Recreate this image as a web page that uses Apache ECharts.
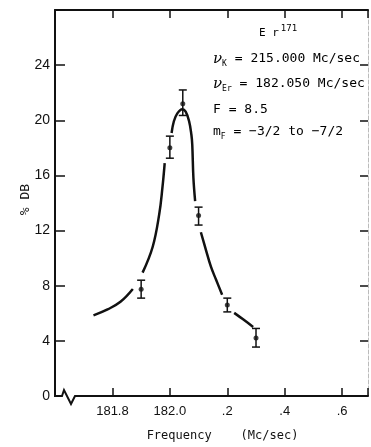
<!DOCTYPE html>
<html>
<head>
<meta charset="utf-8">
<script src="https://cdn.jsdelivr.net/npm/echarts@6/dist/echarts.min.js"></script>
<style>
  html, body { margin: 0; padding: 0; background: #fff; }
  #chart { width: 371px; height: 447px; }
</style>
</head>
<body>
<div id="chart"></div>
<script>
// measured points (Mc/sec, % DB) with error bar ends
const freq = [181.90, 182.00, 182.045, 182.10, 182.20, 182.30]
const pctDB = [7.75, 18.0, 21.2, 13.1, 6.6, 4.2]
const errLow = [7.1, 17.25, 20.35, 12.4, 6.1, 3.55]
const errHigh = [8.4, 18.85, 22.2, 13.7, 7.1, 4.9]

// hand drawn resonance curve, broken where it passes the error bars
const curveA = [[181.734, 5.85], [181.783, 6.28], [181.828, 6.83], [181.871, 7.76]]
const curveB = [[181.905, 8.95], [181.940, 10.81], [181.963, 13.19], [181.974, 15.09], [181.982, 16.89]]
const curveC = [[182.006, 19.08], [182.014, 19.93], [182.026, 20.50], [182.043, 20.80], [182.055, 20.62],
  [182.067, 19.93], [182.075, 18.95], [182.078, 18.23], [182.082, 15.81], [182.088, 14.14]]
const curveD = [[182.108, 11.88], [182.126, 10.57], [182.143, 9.38], [182.161, 8.43], [182.182, 7.35]]
const curveE = [[182.224, 6.03], [182.255, 5.56], [182.290, 5.01]]

const xMin = 181.6, xMax = 182.69, xStep = 0.2
const yMin = 0, yMax = 28, yStep = 4
const xTickValues = [181.8, 182.0, 182.2, 182.4, 182.6]
const xTickLabels = ['181.8', '182.0', '.2', '.4', '.6']
const yTickLabels = ['0', '4', '8', '12', '16', '20', '24']

const ink = '#111'
const mono = 'DejaVu Sans Mono'

const rich = {
  t: { fontFamily: mono, fontSize: 13, lineHeight: 18, color: ink },
  nu: { fontFamily: 'DejaVu Serif', fontStyle: 'italic', fontSize: 15, lineHeight: 18, color: ink },
  sub: { fontFamily: mono, fontSize: 8, lineHeight: 9, verticalAlign: 'bottom', color: ink },
  big: { fontFamily: mono, fontSize: 11, lineHeight: 18, color: ink },
  sup: { fontFamily: mono, fontSize: 9, lineHeight: 9, verticalAlign: 'top', color: ink, padding: [0, 0, 0, 2] },
}
const noteLines = [
  { y: 33, x: 259, text: '{big|E r}{sup|171}' },
  { y: 59, x: 213, text: '{nu|ν}{sub|K}{t| = 215.000 Mc/sec}' },
  { y: 84, x: 213, text: '{nu|ν}{sub|Er}{t| = 182.050 Mc/sec}' },
  { y: 110, x: 213, text: '{t|F = 8.5}' },
  { y: 132, x: 213, text: '{t|m}{sub|F}{t| = −3/2 to −7/2}' },
]

const chart = echarts.init(document.getElementById('chart'))

const xCommon = {
  type: 'value', min: xMin, max: xMax, interval: xStep,
  axisLine: { onZero: false, lineStyle: { color: ink, width: 2 } },
  axisTick: { inside: true, length: 8, lineStyle: { color: ink, width: 1.5 } },
  splitLine: { show: false },
}
const yCommon = {
  type: 'value', min: yMin, max: yMax, interval: yStep,
  splitLine: { show: false },
}

chart.setOption({
  animation: false,
  backgroundColor: '#fff',
  grid: { left: 55, right: 1, top: 10, bottom: 49 },
  xAxis: [
    {
      ...xCommon, position: 'bottom',
      name: 'Frequency    (Mc/sec)', nameLocation: 'middle', nameGap: 34, nameMoveOverlap: false,
      nameTextStyle: { fontFamily: mono, fontSize: 12, color: ink, padding: [0, 0, 0, 22] },
      axisLabel: {
        margin: 9, fontFamily: 'Liberation Sans', fontSize: 13, color: ink,
        formatter: (v) => {
          const i = xTickValues.findIndex((t) => Math.abs(t - v) < 1e-3)
          return i < 0 ? '' : xTickLabels[i]
        },
      },
    },
    { ...xCommon, position: 'top', axisLabel: { show: false } },
  ],
  yAxis: [
    {
      ...yCommon, position: 'left',
      name: '% DB', nameLocation: 'middle', nameGap: 23, nameMoveOverlap: false,
      nameTextStyle: { fontFamily: mono, fontSize: 13, color: ink, padding: [0, 0, 0, 7] },
      axisLine: { onZero: false, lineStyle: { color: ink, width: 2 } },
      axisTick: { inside: true, length: 10, lineStyle: { color: ink, width: 1.5 } },
      axisLabel: {
        margin: 5, fontFamily: 'Liberation Sans', fontSize: 14, color: ink,
        formatter: (v) => (yTickLabels.includes(String(v)) ? String(v) : ''),
      },
    },
    {
      ...yCommon, position: 'right',
      axisLine: { show: true, onZero: false, lineStyle: { color: '#bbb', width: 1, type: 'dashed' } },
      axisTick: { inside: true, length: 8, lineStyle: { color: ink, width: 1.5 } },
      axisLabel: { show: false },
    },
  ],
  series: [
    ...[curveA, curveB, curveC, curveD, curveE].map((seg) => ({
      type: 'line', data: seg, smooth: 0.4, symbol: 'none',
      lineStyle: { color: ink, width: 2.5 }, z: 3,
    })),
    {
      type: 'custom',
      data: freq.map((f, i) => [f, errLow[i], errHigh[i]]),
      encode: { x: 0, y: [1, 2] },
      renderItem: (params, api) => {
        const lo = api.coord([api.value(0), api.value(1)])
        const hi = api.coord([api.value(0), api.value(2)])
        const w = 4
        const st = { stroke: ink, lineWidth: 1.5 }
        return {
          type: 'group',
          children: [
            { type: 'line', shape: { x1: lo[0], y1: lo[1], x2: hi[0], y2: hi[1] }, style: st },
            { type: 'line', shape: { x1: lo[0] - w, y1: lo[1], x2: lo[0] + w, y2: lo[1] }, style: st },
            { type: 'line', shape: { x1: hi[0] - w, y1: hi[1], x2: hi[0] + w, y2: hi[1] }, style: st },
          ],
        }
      },
      z: 4,
    },
    {
      type: 'scatter',
      data: freq.map((f, i) => [f, pctDB[i]]),
      symbol: 'circle', symbolSize: 5,
      itemStyle: { color: ink },
      z: 5,
    },
  ],
  graphic: noteLines.map((l, i) => ({
    id: 'note' + i, type: 'text', x: l.x, y: l.y,
    style: { text: l.text, rich, verticalAlign: 'middle', align: 'left' },
  })),
})

// broken-axis zigzag at the origin
const [cx, cy] = chart.convertToPixel({ gridIndex: 0 }, [xMin, yMin])
chart.setOption({
  graphic: [
    { id: 'gapMask', type: 'rect', z: 100, shape: { x: cx + 3, y: cy - 2, width: 17, height: 4 }, style: { fill: '#fff' } },
    {
      id: 'breakMark', type: 'polyline', z: 101,
      shape: { points: [[cx - 1, cy], [cx + 7, cy], [cx + 9, cy - 6], [cx + 16, cy + 8], [cx + 20, cy], [cx + 22, cy]] },
      style: { stroke: ink, lineWidth: 2, fill: null },
    },
  ],
})
</script>
</body>
</html>
